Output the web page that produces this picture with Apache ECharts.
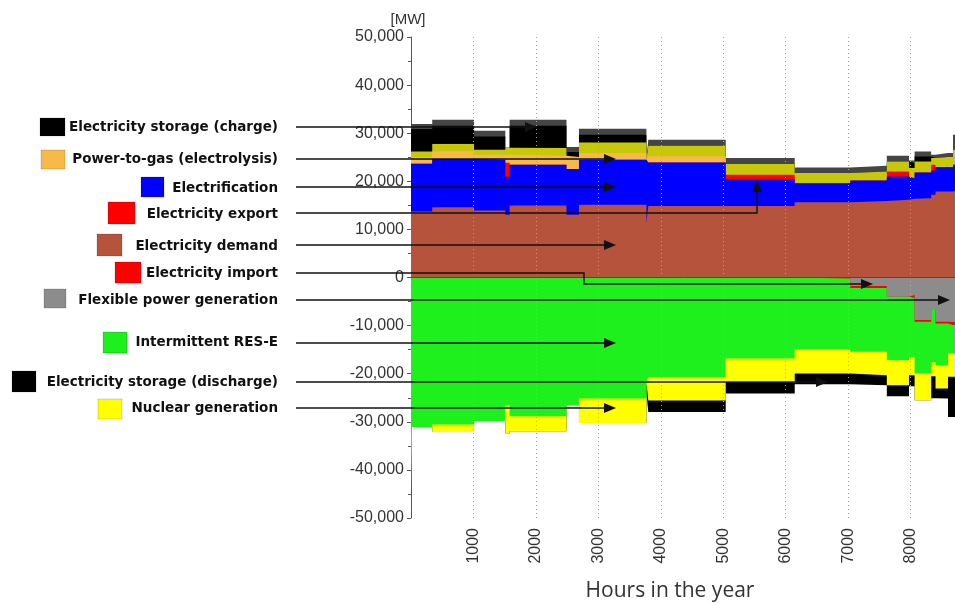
<!DOCTYPE html>
<html>
<head>
<meta charset="utf-8">
<script src="https://cdn.jsdelivr.net/npm/echarts@6/dist/echarts.min.js"></script>
<style>
  html, body { margin: 0; padding: 0; background: #ffffff; }
  #chart { width: 955px; height: 603px; }
</style>
</head>
<body>
<div id="chart"></div>
<script>
// Start hour of each operating block; a block's value holds until the next start.
const hours = [0, 16, 340, 1010, 1510, 1580, 2490, 2690, 3770, 3800, 5040, 6145, 7035, 7620, 7975, 8065, 8330, 8400, 8600, 8680];
const yearEnd = 8760;
const hourTicks = [1000, 2000, 3000, 4000, 5000, 6000, 7000, 8000];

// Uses of electricity (MW, stacked upwards from zero, bottom layer first)
const electricityDemand = [13710, 13710, 14620, 13920, 13020, 14960, 13020, 15100, 11560, 14890, 14890, 15620, 15900, 16140, 16350, 16500, 17190, 17880, 17880, 18230];
const electrification   = [9930, 9930, 10000, 10560, 7910, 8470, 9520, 9380, 12920, 9020, 5560, 4000, 4270, 4860, 4310, 5330, 5060, 5070, 5070, 5200];
const electricityExport = [0, 0, 0, 0, 2920, 0, 0, 0, 0, 0, 900, 0, 0, 1040, 0, 0, 1180, 0, 0, 0];
const powerToGas        = [1400, 1400, 1580, 1040, 1670, 1880, 2500, 1390, 0, 1290, 0, 0, 0, 0, 0, 0, 0, 0, 0, 0];
const oliveBand         = [1160, 1160, 1550, 1040, 1460, 1600, 0, 2210, 0, 2190, 2230, 2080, 1870, 2080, 2090, 2290, 1400, 2090, 2090, 3130];
const storageCharge     = [4670, 4670, 3810, 2770, 0, 4650, 1040, 1600, 0, 0, 0, 0, 0, 0, 1040, 1040, 0, 0, 0, 0];
const greyBand          = [1040, 1040, 1250, 1190, 0, 1250, 1040, 1250, 0, 1250, 1250, 1170, 1190, 1190, 540, 1040, 690, 830, 830, 3120];

// Sources of electricity (MW, stacked downwards from zero, layer nearest zero first)
const flexibleGeneration = [0, 0, 0, 0, 0, 0, 0, 0, 0, 0, 0, 0, -1770, -4000, -3650, -8850, -6770, -9210, -9270, -9270];
const electricityImport  = [0, 0, 0, 0, 0, 0, 0, 0, 0, 0, 0, -200, -420, 0, -620, -350, 0, -330, -620, -620];
const intermittentRES    = [-39410, -31080, -30580, -29830, -26560, -28850, -26560, -25160, -21770, -20730, -16830, -14760, -13270, -13190, -12290, -10760, -10830, -8690, -5840, -5840];
const nuclearGeneration  = [-5480, 0, -1540, 0, -5830, -3120, 0, -5090, 0, -4850, -4870, -5000, -4850, -5200, -3750, -5560, -2920, -4850, -4930, -4930];
const storageDischarge   = [0, 0, 0, 0, 0, 0, 0, 0, -2300, -2370, -2420, -2220, -2080, -2290, -2290, 0, -4580, -2080, -8340, -8340];

const COLORS = {
  demand: '#b5533c', electrification: '#0000ff', export: '#ff0000', p2g: '#f8b94b',
  olive: '#c8c80a', charge: '#000000', grey: '#454545',
  flexible: '#8c8c8c', import: '#ff0000', res: '#1ef01e', nuclear: '#ffff00', discharge: '#000000'
};

const useLayers = [
  { name: 'Electricity demand', values: electricityDemand, color: COLORS.demand },
  { name: 'Electrification', values: electrification, color: COLORS.electrification },
  { name: 'Electricity export', values: electricityExport, color: COLORS.export },
  { name: 'Power-to-gas (electrolysis)', values: powerToGas, color: COLORS.p2g },
  { name: 'olive band', values: oliveBand, color: COLORS.olive },
  { name: 'Electricity storage (charge)', values: storageCharge, color: COLORS.charge },
  { name: 'grey band', values: greyBand, color: COLORS.grey }
];
const supplyLayers = [
  { name: 'Flexible power generation', values: flexibleGeneration, color: COLORS.flexible },
  { name: 'Electricity import', values: electricityImport, color: COLORS.import },
  { name: 'Intermittent RES-E', values: intermittentRES, color: COLORS.res },
  { name: 'Nuclear generation', values: nuclearGeneration, color: COLORS.nuclear },
  { name: 'Electricity storage (discharge)', values: storageDischarge, color: COLORS.discharge }
];

// Running totals: each layer is filled from zero to its cumulative edge,
// outermost layer first so the inner layers paint over it.
function cumulative(layers) {
  let run = hours.map(() => 0);
  return layers.map(l => {
    run = run.map((r, i) => r + l.values[i]);
    return { name: l.name, color: l.color, edge: run.slice() };
  });
}

function areaSeries(layer) {
  const pts = hours.map((h, i) => [h, layer.edge[i]]);
  pts.push([yearEnd, layer.edge[layer.edge.length - 1]]);
  return {
    name: layer.name, type: 'line', step: 'end',
    data: pts, symbol: 'none', showSymbol: false, silent: true,
    lineStyle: { width: 0 }, itemStyle: { color: layer.color },
    areaStyle: { color: layer.color, opacity: 1, origin: 0 }
  };
}

const series = cumulative(useLayers).reverse().map(areaSeries)
  .concat(cumulative(supplyLayers).reverse().map(areaSeries));

series.push({
  // dotted hour grid and zero line drawn over the areas
  name: 'guides', type: 'line', data: [[0, 0]], symbol: 'none', silent: true,
  lineStyle: { opacity: 0 },
  markLine: {
    symbol: 'none', silent: true, animation: false, label: { show: false },
    lineStyle: { color: '#a8a8a8', type: [1, 3], width: 1 },
    emphasis: { disabled: true },
    data: hourTicks.map(h => ({ xAxis: h })).concat([
      { yAxis: 0, lineStyle: { color: '#4a4a4a', type: 'solid', width: 1 } }
    ])
  }
});

function thousands(v) {
  const s = String(Math.abs(v)).replace(/\B(?=(\d{3})+(?!\d))/g, ',');
  return (v < 0 ? '-' : '') + s;
}

// Legend entries with leader arrows
const legendItems = [
  { label: 'Electricity storage (charge)', color: COLORS.charge, box: [40, 118, 25, 18], ty: 127, path: [[296, 127], [537, 127]] },
  { label: 'Power-to-gas (electrolysis)', color: COLORS.p2g, box: [41, 150, 24, 19], ty: 159, path: [[296, 159], [616, 159]] },
  { label: 'Electrification', color: COLORS.electrification, box: [141, 177, 23, 20], ty: 188, path: [[296, 187], [616, 187]] },
  { label: 'Electricity export', color: COLORS.export, box: [108, 202, 27, 22], ty: 214, path: [[296, 213], [757, 213], [757, 180]] },
  { label: 'Electricity demand', color: COLORS.demand, box: [97, 234, 25, 22], ty: 246, path: [[296, 245], [616, 245]] },
  { label: 'Electricity import', color: COLORS.import, box: [115, 262, 26, 21], ty: 273, path: [[296, 273], [584, 273], [584, 284], [873, 284]] },
  { label: 'Flexible power generation', color: COLORS.flexible, box: [44, 289, 22, 19], ty: 300, path: [[296, 300], [950, 300]] },
  { label: 'Intermittent RES-E', color: COLORS.res, box: [103, 332, 24, 21], ty: 342, path: [[296, 343], [616, 343]] },
  { label: 'Electricity storage (discharge)', color: COLORS.discharge, box: [12, 371, 24, 21], ty: 382, path: [[296, 382], [828, 382]] },
  { label: 'Nuclear generation', color: COLORS.nuclear, box: [98, 399, 24, 20], ty: 408, path: [[296, 408], [616, 408]] }
];

const graphics = [];
legendItems.forEach(item => {
  graphics.push({
    type: 'rect', z: 100, shape: { x: item.box[0], y: item.box[1], width: item.box[2], height: item.box[3] },
    style: { fill: item.color, stroke: 'rgba(0,0,0,0.15)', lineWidth: 1 }
  });
  graphics.push({
    type: 'text', z: 100, x: 278, y: item.ty,
    style: { text: item.label, fill: '#111', font: 'bold 13.5px "DejaVu Sans"', align: 'right', verticalAlign: 'middle' }
  });
  const p = item.path;
  const tip = p[p.length - 1], prev = p[p.length - 2];
  const dx = tip[0] - prev[0], dy = tip[1] - prev[1];
  const len = Math.sqrt(dx * dx + dy * dy);
  const ux = dx / len, uy = dy / len;
  const headLen = 12, half = 5;
  const base = [tip[0] - ux * headLen, tip[1] - uy * headLen];
  const shaft = p.slice(0, p.length - 1).concat([base]);
  graphics.push({
    type: 'polyline', z: 100, shape: { points: shaft },
    style: { stroke: '#111', lineWidth: 1.4, fill: null }
  });
  graphics.push({
    type: 'polygon', z: 100,
    shape: { points: [tip, [base[0] - uy * half, base[1] + ux * half], [base[0] + uy * half, base[1] - ux * half]] },
    style: { fill: '#111' }
  });
});
graphics.push({
  type: 'text', z: 100, x: 408, y: 20,
  style: { text: '[MW]', fill: '#333', font: '15px "Liberation Sans"', align: 'center', verticalAlign: 'middle' }
});
graphics.push({
  type: 'text', z: 100, x: 670, y: 591,
  style: { text: 'Hours in the year', fill: '#333', font: '21px "Open Sans"', align: 'center', verticalAlign: 'middle' }
});

const chart = echarts.init(document.getElementById('chart'), null, { renderer: 'canvas' });
chart.setOption({
  animation: false,
  backgroundColor: '#ffffff',
  grid: { left: 411, right: -3, top: 37, bottom: 85, containLabel: false, outerBoundsMode: 'none' },
  xAxis: {
    type: 'value', min: 0, max: yearEnd, interval: 1000,
    axisLine: { show: false }, axisTick: { show: false }, splitLine: { show: false },
    axisLabel: {
      rotate: 90, margin: 10, fontSize: 16, color: '#333', fontFamily: 'Liberation Sans',
      showMinLabel: false, showMaxLabel: false,
      formatter: v => (hourTicks.indexOf(v) >= 0 ? String(v) : '')
    }
  },
  yAxis: {
    type: 'value', min: -50000, max: 50000, interval: 10000,
    axisLine: { show: true, lineStyle: { color: '#555', width: 1 } },
    axisTick: { show: true, length: 4, lineStyle: { color: '#555' } },
    minorTick: { show: true, splitNumber: 2, length: 3, lineStyle: { color: '#555' } },
    splitLine: { show: false },
    axisLabel: { formatter: thousands, fontSize: 16, color: '#333', fontFamily: 'Liberation Sans', margin: 7 }
  },
  graphic: { elements: graphics },
  series: series
});
</script>
</body>
</html>
